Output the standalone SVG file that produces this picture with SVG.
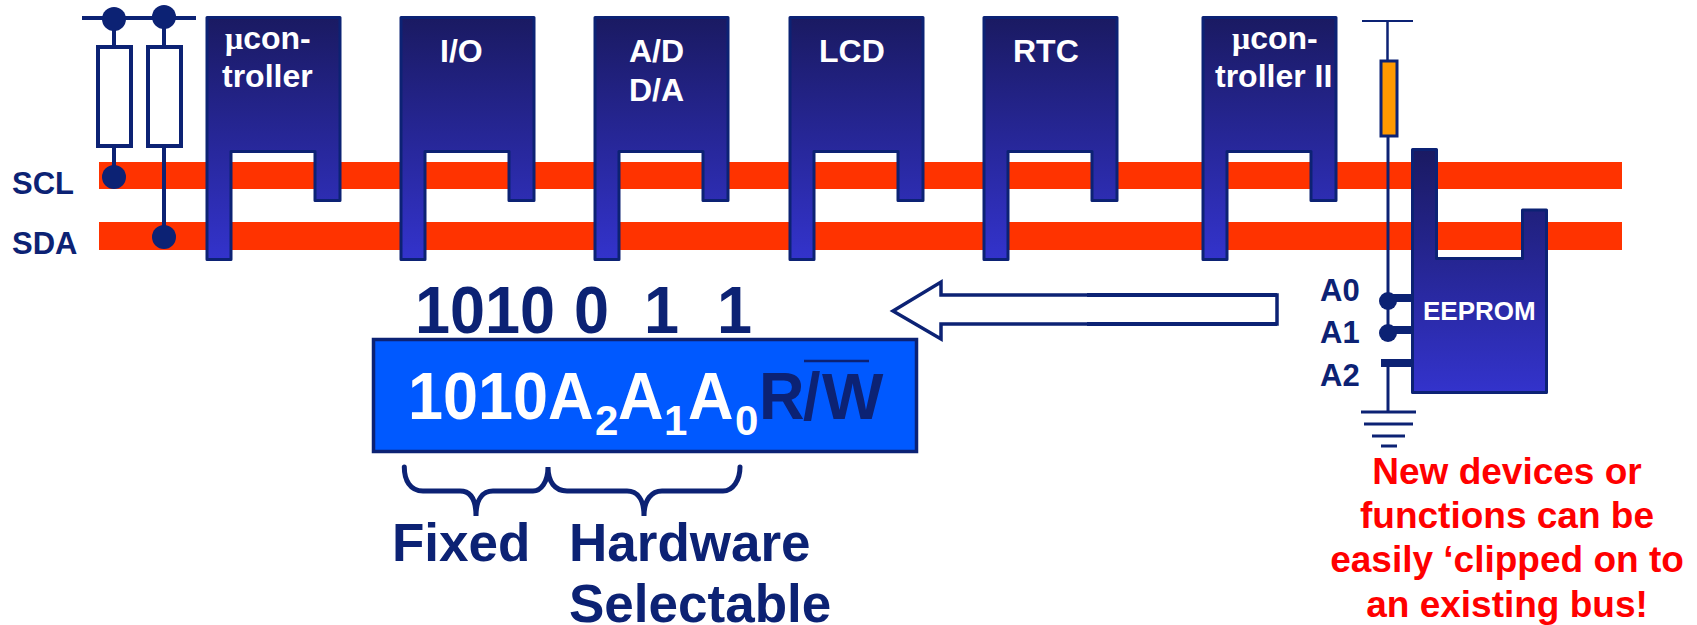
<svg xmlns="http://www.w3.org/2000/svg" xmlns:xlink="http://www.w3.org/1999/xlink" width="1697" height="625" viewBox="0 0 1697 625">
<style>
text{font-family:"Liberation Sans",Arial,sans-serif;font-weight:bold}
.n{fill:#0c2274}
.w{fill:#fff}
.d{font-size:32px;fill:#fff}
.mu{font-family:"Liberation Serif","Times New Roman",serif}
.l{font-size:31px;fill:#0c2274}
.big{font-size:53px;fill:#0c2274}
.r{font-size:37px;fill:#f00;text-anchor:middle}
.dig{font-size:67px}
.sub{font-size:42px}
.wire{stroke:#0c2274;fill:none}
.dev{fill:url(#g);stroke:#0c2274;stroke-width:3;stroke-linejoin:round}
.dot{fill:#0c2274}
</style>
<defs>
<linearGradient id="g" x1="0" y1="0" x2="0" y2="1"><stop offset="0" stop-color="#1a1a62"/><stop offset="1" stop-color="#3333cc"/></linearGradient>
<path id="dv" d="M0 0H133V183H108V134H24V242H0Z"/>
</defs>
<rect width="1697" height="625" fill="#fff"/>
<g id="buses">
<rect id="scl-bus" x="99" y="162" width="1523" height="27" fill="#ff3300"/>
<rect id="sda-bus" x="99" y="222" width="1523" height="28" fill="#ff3300"/>
</g>
<g id="connectors" class="wire">
<path d="M82 18H196" stroke-width="4"/>
<path d="M114 19V46M114 146V177M164 17V46M164 146V237" stroke-width="4"/>
<path d="M1362 21H1413" stroke-width="2"/>
<path d="M1387.500 21V60" stroke-width="2.500"/>
<path d="M1388 136V333" stroke-width="3"/>
<path d="M1388 298H1412M1388 330H1412" stroke-width="8"/>
<path d="M1381 363H1412" stroke-width="8"/>
<path d="M1388 367V412" stroke-width="3"/>
<path d="M1361 412H1416M1364 424H1413M1372 436H1405M1381 446H1397" stroke-width="3"/>
</g>
<g id="pullup-1"><rect x="98" y="47" width="33" height="99" fill="#fff" stroke="#0c2274" stroke-width="4"/><circle class="dot" cx="114" cy="19" r="12"/><circle class="dot" cx="114" cy="177" r="12"/></g>
<g id="pullup-2"><rect x="148" y="47" width="33" height="99" fill="#fff" stroke="#0c2274" stroke-width="4"/><circle class="dot" cx="164" cy="17" r="12"/><circle class="dot" cx="164" cy="237" r="12"/></g>
<g id="label-scl"><text class="l" x="12" y="194">SCL</text></g>
<g id="label-sda"><text class="l" x="12" y="254">SDA</text></g>
<g id="dev-uc1"><use href="#dv" class="dev" x="207" y="17.500"/><text class="d" x="225" y="49"><tspan class="mu">μ</tspan>con-</text><text class="d" x="222" y="87">troller</text></g>
<g id="dev-io"><use href="#dv" class="dev" x="401" y="17.500"/><text class="d" x="440" y="62">I/O</text></g>
<g id="dev-ad"><use href="#dv" class="dev" x="595" y="17.500"/><text class="d" x="629" y="62">A/D</text><text class="d" x="629" y="101">D/A</text></g>
<g id="dev-lcd"><use href="#dv" class="dev" x="790" y="17.500"/><text class="d" x="819" y="62">LCD</text></g>
<g id="dev-rtc"><use href="#dv" class="dev" x="984" y="17.500"/><text class="d" x="1013" y="62">RTC</text></g>
<g id="dev-uc2"><use href="#dv" class="dev" x="1203" y="17.500"/><text class="d" x="1232" y="49"><tspan class="mu">μ</tspan>con-</text><text class="d" x="1215" y="87">troller II</text></g>
<g id="pullup-3"><rect x="1381" y="61" width="16" height="75" fill="#ff9900" stroke="#0c2274" stroke-width="3"/></g>
<g id="eeprom"><path class="dev" d="M1412.500 149.500H1436.500V258.500H1522.500V210H1546.500V392.500H1412.500Z"/><text x="1423" y="320" font-size="26" fill="#fff">EEPROM</text><circle class="dot" cx="1388" cy="301" r="9"/><circle class="dot" cx="1388" cy="333" r="9"/><text class="l" x="1320" y="301">A0</text><text class="l" x="1320" y="343">A1</text><text class="l" x="1320" y="386">A2</text></g>
<g id="arrow"><path d="M893 311L941 282V295H1277V324H941V339Z" fill="#fff" stroke="#0c2274" stroke-width="3.500"/><path d="M1087 295H1277M1087 324H1277" class="wire" stroke-width="4"/></g>
<g id="bits" class="n">
<text class="dig" transform="translate(415 333) scale(.94 1)">1010</text>
<text class="dig" transform="translate(574 333) scale(.94 1)">0</text>
<text class="dig" transform="translate(644 333) scale(.94 1)">1</text>
<text class="dig" transform="translate(717 333) scale(.94 1)">1</text>
</g>
<g id="address-box"><rect x="373.500" y="339.500" width="543" height="112" fill="#0059ff" stroke="#0c2274" stroke-width="3.500"/>
<g class="w">
<text class="dig" transform="translate(408 419) scale(.94 1)">1010</text>
<text class="dig" transform="translate(548 419) scale(.94 1)">A</text>
<text class="sub" x="595" y="435">2</text>
<text class="dig" transform="translate(618 419) scale(.94 1)">A</text>
<text class="sub" x="664" y="435">1</text>
<text class="dig" transform="translate(688 419) scale(.94 1)">A</text>
<text class="sub" x="735" y="435">0</text>
</g>
<g class="n">
<text class="dig" transform="translate(759 419) scale(.94 1)">R</text>
<text class="dig" transform="translate(803 419) scale(.94 1)">/</text>
<text class="dig" transform="translate(822 419)" style="font-size:65px">W</text>
<path d="M804 361H869" stroke="#0c2274" stroke-width="2.500"/>
</g></g>
<g id="braces"><path class="wire" stroke-width="5" stroke-linecap="round" d="M404.300 467C404.300 480 410 491 423 491H460C470 491 476 499 476 516C476 499 483 491 493 491H533C541 491 548 482 548 467C548 482 555 491 567 491H627C637 491 644 499 644 516C644 499 652 491 662 491H723C733 491 740 480 740 467"/></g>
<g id="labels">
<text class="big" x="392" y="561">Fixed</text>
<text class="big" x="569" y="561">Hardware</text>
<text class="big" x="569" y="622">Selectable</text>
</g>
<g id="note">
<text class="r" x="1507" y="484">New devices or</text>
<text class="r" x="1507" y="528">functions can be</text>
<text class="r" x="1507" y="572">easily ‘clipped on to</text>
<text class="r" x="1507" y="617">an existing bus!</text>
</g>
</svg>
